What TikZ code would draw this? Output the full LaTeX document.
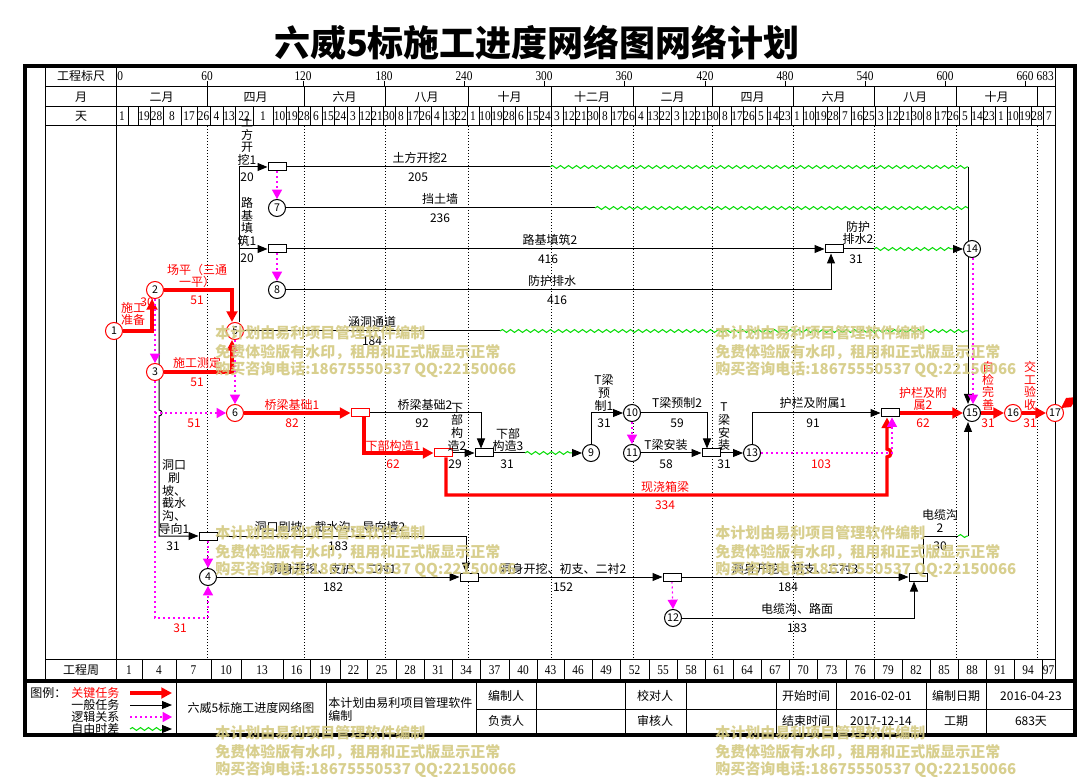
\documentclass[tikz,border=0pt]{standalone}
\usepackage{fontspec}
\setmainfont{Noto Sans CJK SC}
\newfontfamily\dgt{Liberation Serif}[FakeStretch=0.85]
\usetikzlibrary{arrows.meta,decorations.pathmorphing,calc,backgrounds}
\definecolor{cred}{RGB}{255,0,0}
\definecolor{cmag}{RGB}{255,0,255}
\definecolor{cgrn}{RGB}{0,220,0}
\definecolor{cwm}{RGB}{212,202,130}
\tikzset{
 critl/.style={draw=cred, line width=2.6pt, -{Triangle[length=8pt,width=8pt]}},
 norml/.style={draw=black, line width=0.75pt, -{Triangle[length=7.5pt,width=6pt]}},
 plainl/.style={draw=black, line width=0.75pt},
 logicl/.style={draw=cmag, line width=0.9pt, dash pattern=on 1.5pt off 2.25pt, -{Triangle[length=7pt,width=7.5pt]}},
 wavyl/.style={draw=cgrn, line width=0.75pt, decorate, decoration={snake, amplitude=1.1pt, segment length=6pt}},
 gridl/.style={draw=black, line width=0.75pt, dash pattern=on 0.75pt off 1.5pt},
 thinl/.style={draw=black, line width=0.75pt},
 thickl/.style={draw=black, line width=3pt},
 circ/.style={circle, draw=black, fill=white, line width=0.75pt, minimum size=12.75pt, inner sep=0pt, font=\fontsize{8}{8}\selectfont},
 rcirc/.style={circ, draw=cred},
 bx/.style={rectangle, draw=black, fill=white, line width=0.75pt, minimum width=13.5pt, minimum height=6pt, inner sep=0pt},
 rbx/.style={bx, draw=cred},
 lbl/.style={font=\fontsize{9}{9.5}\selectfont, inner sep=0pt, align=center},
 rlbl/.style={lbl, text=cred},
 hdig/.style={font=\dgt\fontsize{10}{10}\selectfont, inner sep=0pt},
 wmk/.style={font=\bfseries\fontsize{11.25}{12}\selectfont, text=cwm, inner sep=0pt, anchor=west, text opacity=0.9},
}
\begin{document}
\begin{tikzpicture}[x=0.75pt,y=-0.75pt]
\useasboundingbox (0,0) rectangle (1079,777);
\begin{pgfonlayer}{background}
\fill[white] (0,0) rectangle (1079,777);
\foreach \x in {207,304,385,468,551,633,712,793,874,956,1037} \draw[gridl] (\x,126) -- (\x,659);
\end{pgfonlayer}

% title
\node[font=\bfseries\fontsize{27}{30}\selectfont, inner sep=0pt] (ttl) at (537,43) {六威5标施工进度网络图网络计划};

% header grid
\draw[thinl] (45,66) -- (45,681);
\draw[thinl] (116,66) -- (116,681);
\draw[thinl] (1055,66) -- (1055,681);
\draw[thinl] (45,87) -- (1055,87);
\draw[thinl] (45,107) -- (1055,107);
\draw[thinl] (45,126) -- (1055,126);
\draw[thinl] (45,659) -- (1055,659);
\node[lbl] (h1) at (81,76) {工程标尺};
\node[lbl] (h2) at (81,97) {月};
\node[lbl] (h3) at (81,116.5) {天};
\node[lbl] (h4) at (81,670) {工程周};

% scale row
\node[hdig, anchor=west] (s0) at (117,76) {0};
\foreach \x/\t [count=\i] in {207/60,303/120,384/180,464/240,544/300,624/360,705/420,785/480,865/540,945/600,1025/660} {
  \draw[thinl] (\x,81) -- (\x,87);
  \node[hdig] (s\i) at (\x,76) {\t};
}
\node[hdig, anchor=east] (s683) at (1054,76) {683};

% month row
\foreach \a/\b/\t [count=\i] in {116/207/二月,207/304/四月,304/385/六月,385/468/八月,468/551/十月,551/633/十二月,633/712/二月,712/793/四月,793/874/六月,874/956/八月,956/1037/十月} {
  \draw[thinl] (\b,87) -- (\b,107);
  \node[lbl] (mo\i) at ({(\a+\b)/2},97) {\t};
}

% day row
\foreach \x in {128,138,150,163,181,197,210,223,235,253,273,286,298,310,322,334,347} \draw[thinl] (\x,107) -- (\x,126);
\foreach \t/\c [count=\i] in {1/122,19/144,28/156.5,8/172,17/189,26/203.5,4/216.5,13/229,22/244,1/263,10/279.5,19/292,28/304,6/316,15/328,24/340.5} {
  \node[hdig] (da\i) at (\c,116.5) {\t};
}
\foreach \t [count=\i from 0] in {3,12,21,30,8,17,26,4,13,22,1,10,19,28,6,15,24,3,12,21,30,8,17,26,4,13,22,3,12,21,30,8,17,26,5,14,23,1,10,19,28,7,16,25,3,12,21,30,8,17,26,5,14,23,1,10,19,28,7} {
  \draw[thinl] ({359+\i*12},107) -- ({359+\i*12},126);
  \node[hdig] (db\i) at ({353+\i*12},116.5) {\t};
}

% week row
\foreach \a/\b/\t [count=\i] in {116/142/1,142/176/4,176/211/7,211/241/10,241/283/13,283/310/16,310/340/19,340/367/22,367/396/25,396/424/28,424/452/31,452/480/34,480/509/37,509/537/40,537/564/43,564/592/46,592/620/49,620/649/52,649/677/55,677/705/58,705/733/61,733/761/64,761/789/67,789/817/70,817/846/73,846/874/76,874/902/79,902/930/82,930/958/85,958/986/88,986/1014/91,1014/1042/94,1042/1055/97} {
  \draw[thinl] (\b,659) -- (\b,681);
  \node[hdig] (wk\i) at ({(\a+\b)/2},670) {\t};
}

% nodes: circles
\node[rcirc] (n1) at (114,331) {1};
\node[rcirc] (n2) at (155,290) {2};
\node[rcirc] (n3) at (155,372) {3};
\node[rcirc] (n5) at (235,331) {5};
\node[rcirc] (n6) at (235,413) {6};
\node[circ] (n7) at (277,208) {7};
\node[circ] (n8) at (277,290) {8};
\node[circ] (n4) at (208,577) {4};
\node[circ] (n9) at (591,453) {9};
\node[circ] (n10) at (632,413) {10};
\node[circ] (n11) at (632,453) {11};
\node[circ] (n13) at (752,453) {13};
\node[circ] (n12) at (673,618) {12};
\node[circ] (n14) at (972,249) {14};
\node[circ] (n15) at (972,413) {15};
\node[rcirc] (n16) at (1013,413) {16};
\node[rcirc] (n17) at (1055,413) {17};
% boxes
\node[bx] (bA) at (277,167) {};
\node[bx] (bB) at (277,249) {};
\node[rbx] (bC) at (360,413) {};
\node[rbx] (bD) at (443,453) {};
\node[bx] (bE) at (484,453) {};
\node[bx] (bF) at (711,453) {};
\node[bx] (bG) at (834,249) {};
\node[bx] (bH) at (890,413) {};
\node[bx] (bI) at (208,536) {};
\node[bx] (bJ) at (469,577) {};
\node[bx] (bK) at (672,577) {};
\node[bx] (bL) at (918,577) {};

\begin{pgfonlayer}{background}
% critical
\draw[critl] (n1.east) -| ($(n2.south)+(-3,0)$);
\draw[critl] (n2.east) -| ($(n5.north)+(-3,0)$);
\draw[critl] (n3.east) -| ($(n5.south)+(-3,0)$);
\draw[critl] (n6.east) -- (bC.west);
\draw[critl] ($(bC.south)+(4,0)$) |- (bD.west);
\draw[critl] ($(bD.south)+(3,0)$) -- (446,495) -- (887,495) -- (887,457) arc[start angle=90,end angle=-90,radius=4] -- ($(bH.south)+(-3,0)$);
\draw[critl] (bH.east) -- (n15.west);
\draw[critl] (n15.east) -- (n16.west);
\draw[critl] (n16.east) -- (n17.west);
% normal
\draw[norml] (bC.east) -| ($(bE.north)+(-3,0)$);
\draw[norml] (bD.east) -- (bE.west);
\draw[plainl] (bE.east) -- (525,453);
\draw[wavyl] (525,453) -- (573,453);
\draw[norml] (573,453) -- (n9.west);
\draw[norml] (n9.north) |- (n10.west);
\draw[norml] (n10.east) -| ($(bF.north)+(-4,0)$);
\draw[norml] (n11.east) -- (bF.west);
\draw[norml] (bF.east) -- (n13.west);
\draw[norml] (n13.north) |- (bH.west);
\draw[norml] ($(n5.north)+(4,0)$) |- (bA.west);
\coordinate (j1) at (239,249);
\draw[norml] (j1) -- (bB.west);
\draw[plainl] (bA.east) -- (550,167);
\draw[wavyl] (550,167) -- (968,167);
\draw[plainl] (n7.east) -- (595,208);
\draw[wavyl] (595,208) -- (968,208);
\draw[norml] (bB.east) -- (bG.west);
\draw[norml] (n8.east) -| ($(bG.south)+(-3,0)$);
\draw[plainl] (bG.east) -- (874,249);
\draw[wavyl] (874,249) -- (954,249);
\draw[norml] (954,249) -- (n14.west);
\draw[plainl] (n5.east) -- (500,331);
\draw[wavyl] (500,331) -- (968,331);
\draw[norml] (968,167) -- ($(n15.north)+(-4,0)$);
\draw[norml] ($(n2.south)+(4,0)$) -- (159,410) arc[start angle=-90,end angle=90,radius=3] -- (159,536) -- (bI.west);
\draw[norml] (bI.east) -| ($(bJ.north)+(-3,0)$);
\draw[norml] (n4.east) -- (bJ.west);
\draw[norml] (bJ.east) -- (bK.west);
\draw[norml] (bK.east) -- (bL.west);
\draw[norml] (n12.east) -| ($(bL.south)+(-4,0)$);
\draw[plainl] ($(bL.north)+(5,0)$) |- (958,536);
\draw[wavyl] (958,536) -- (968,536);
\draw[norml] (968,536) -- ($(n15.south)+(-4,0)$);
% logic
\draw[logicl] (n2.south) -- (n3.north);
\draw[logicl] (n3.south) -- (155,618) -| (n4.south);
\draw[logicl] (155,413) -- (n6.west);
\draw[logicl] (n5.south) -- (n6.north);
\draw[logicl] (bA.south) -- (n7.north);
\draw[logicl] (bB.south) -- (n8.north);
\draw[logicl] (n10.south) -- (n11.north);
\draw[logicl] (n13.east) -- (892,453) -- ($(bH.south)+(2,0)$);
\draw[logicl] ($(n14.south)+(1,0)$) -- ($(n15.north)+(1,0)$);
\draw[logicl] (bI.south) -- (n4.north);
\draw[logicl] (bK.south) -- (n12.north);
\end{pgfonlayer}

% end flag
\fill[cred] (1061,408) -- (1066,398) -- (1077,397) -- (1071,407) -- cycle;

% black labels
\node[lbl] (L1) at (247,141) {土\\方\\开\\挖1};
\node[lbl] (L2) at (247,177) {20};
\node[lbl] (L3) at (247,222) {路\\基\\填\\筑1};
\node[lbl] (L4) at (247,258) {20};
\node[lbl] (L5) at (420,158) {土方开挖2};
\node[lbl] (L6) at (418,177) {205};
\node[lbl] (L7) at (440,199) {挡土墙};
\node[lbl] (L8) at (440,218) {236};
\node[lbl] (L9) at (550,240) {路基填筑2};
\node[lbl] (L10) at (548,259) {416};
\node[lbl] (L11) at (552,281) {防护排水};
\node[lbl] (L12) at (557,300) {416};
\node[lbl] (L13) at (858,233) {防护\\排水2};
\node[lbl] (L14) at (856,259) {31};
\node[lbl] (L15) at (372,322) {涵洞通道};
\node[lbl] (L16) at (372,341) {184};
\node[lbl] (L17) at (425,405) {桥梁基础2};
\node[lbl] (L18) at (422,423) {92};
\node[lbl] (L19) at (457,427) {下\\部\\构\\造2};
\node[lbl] (L20) at (455,464) {29};
\node[lbl] (L21) at (508,440) {下部\\构造3};
\node[lbl] (L22) at (507,464) {31};
\node[lbl] (L23) at (604,393) {T梁\\预\\制1};
\node[lbl] (L24) at (604,423) {31};
\node[lbl] (L25) at (677,403) {T梁预制2};
\node[lbl] (L26) at (677,423) {59};
\node[lbl] (L27) at (666,445) {T梁安装};
\node[lbl] (L28) at (666,464) {58};
\node[lbl] (L29) at (724,427) {T\\梁\\安\\装};
\node[lbl] (L30) at (724,464) {31};
\node[lbl] (L31) at (813,403) {护栏及附属1};
\node[lbl] (L32) at (813,423) {91};
\node[lbl] (L33) at (174,497) {洞口\\刷\\坡、\\截水\\沟、\\导向1};
\node[lbl] (L34) at (173,546) {31};
\node[lbl] (L35) at (330,527) {洞口刷坡、截水沟、导向墙2};
\node[lbl] (L36) at (338,546) {183};
\node[lbl] (L37) at (333,569) {洞身开挖、支护、二衬1};
\node[lbl] (L38) at (333,587) {182};
\node[lbl] (L39) at (563,569) {洞身开挖、初支、二衬2};
\node[lbl] (L40) at (563,587) {152};
\node[lbl] (L41) at (795,569) {洞身开挖、初支、二衬3};
\node[lbl] (L42) at (788,587) {184};
\node[lbl] (L43) at (797,609) {电缆沟、路面};
\node[lbl] (L44) at (797,628) {183};
\node[lbl] (L45) at (940,521) {电缆沟\\2};
\node[lbl] (L46) at (940,546) {30};
% red labels
\node[rlbl] (R1) at (133,314) {施工\\准备};
\node[rlbl] (R2) at (147,302) {30};
\node[rlbl] (R3) at (197,276) {场平（三通\\一平）};
\node[rlbl] (R4) at (197,300) {51};
\node[rlbl] (R5) at (197,363) {施工测定};
\node[rlbl] (R6) at (197,382) {51};
\node[rlbl] (R7) at (194,423) {51};
\node[rlbl] (R8) at (292,405) {桥梁基础1};
\node[rlbl] (R9) at (292,423) {82};
\node[rlbl] (R10) at (393,446) {下部构造1};
\node[rlbl] (R11) at (393,464) {62};
\node[rlbl] (R12) at (665,487) {现浇箱梁};
\node[rlbl] (R13) at (665,505) {334};
\node[rlbl] (R14) at (821,464) {103};
\node[rlbl] (R15) at (923,399) {护栏及附\\属2};
\node[rlbl] (R16) at (923,423) {62};
\node[rlbl] (R17) at (988,386) {自\\检\\完\\善};
\node[rlbl] (R18) at (988,423) {31};
\node[rlbl] (R19) at (1030,386) {交\\工\\验\\收};
\node[rlbl] (R20) at (1030,423) {31};
\node[rlbl] (R21) at (180,628) {31};

% legend
\node[lbl, anchor=west] (lg0) at (30,693) {图例：};
\node[rlbl, anchor=west] (lg1) at (71,693) {关键任务};
\node[lbl, anchor=west] (lg2) at (71,705) {一般任务};
\node[lbl, anchor=west] (lg3) at (71,717) {逻辑关系};
\node[lbl, anchor=west] (lg4) at (71,729) {自由时差};
\coordinate (la1) at (130,693); \coordinate (lb1) at (172,693);
\coordinate (la2) at (130,705); \coordinate (lb2) at (172,705);
\coordinate (la3) at (130,717); \coordinate (lb3) at (172,717);
\coordinate (la4) at (130,729); \coordinate (lm4) at (163,729); \coordinate (lb4) at (172,729);
\draw[critl] (la1) -- (lb1);
\draw[norml] (la2) -- (lb2);
\draw[logicl] (la3) -- (lb3);
\draw[wavyl] (la4) -- (lm4);
\draw[norml] (lm4) -- (lb4);

% table
\foreach \x in {176,326,476,536,625,686,776,836,926,986} \draw[thinl] (\x,681) -- (\x,735);
\draw[thinl] (476,709) -- (1075,709);
\node[lbl] (tb1) at (251,708) {六威5标施工进度网络图};
\node[lbl, align=left, anchor=west] (tb2) at (328,709.5) {本计划由易利项目管理软件\\编制};
\node[lbl] (tb3) at (506,696) {编制人};
\node[lbl] (tb4) at (506,721) {负责人};
\node[lbl] (tb5) at (655,696) {校对人};
\node[lbl] (tb6) at (655,721) {审核人};
\node[lbl] (tb7) at (806,696) {开始时间};
\node[lbl] (tb8) at (806,721) {结束时间};
\node[lbl] (tb9) at (881,696) {2016-02-01};
\node[lbl] (tb10) at (881,721) {2017-12-14};
\node[lbl] (tb11) at (956,696) {编制日期};
\node[lbl] (tb12) at (956,721) {工期};
\node[lbl] (tb13) at (1031,696) {2016-04-23};
\node[lbl] (tb14) at (1031,721) {683天};

% frame
\draw[thickl] (25,681) -- (1075,681);
\draw[thickl] (25,66) rectangle (1075,735);

% watermarks
\foreach \wx/\wy [count=\k] in {215/333,715/333,215/533,715/533,215/733,715/733} {
  \node[wmk] (wa\k) at (\wx,\wy) {本计划由易利项目管理软件编制};
  \node[wmk] (wb\k) at (\wx,\wy+19) {免费体验版有水印，租用和正式版显示正常};
  \node[wmk] (wc\k) at (\wx,\wy+37) {购买咨询电话:18675550537 QQ:22150066};
}
\end{tikzpicture}
\end{document}
